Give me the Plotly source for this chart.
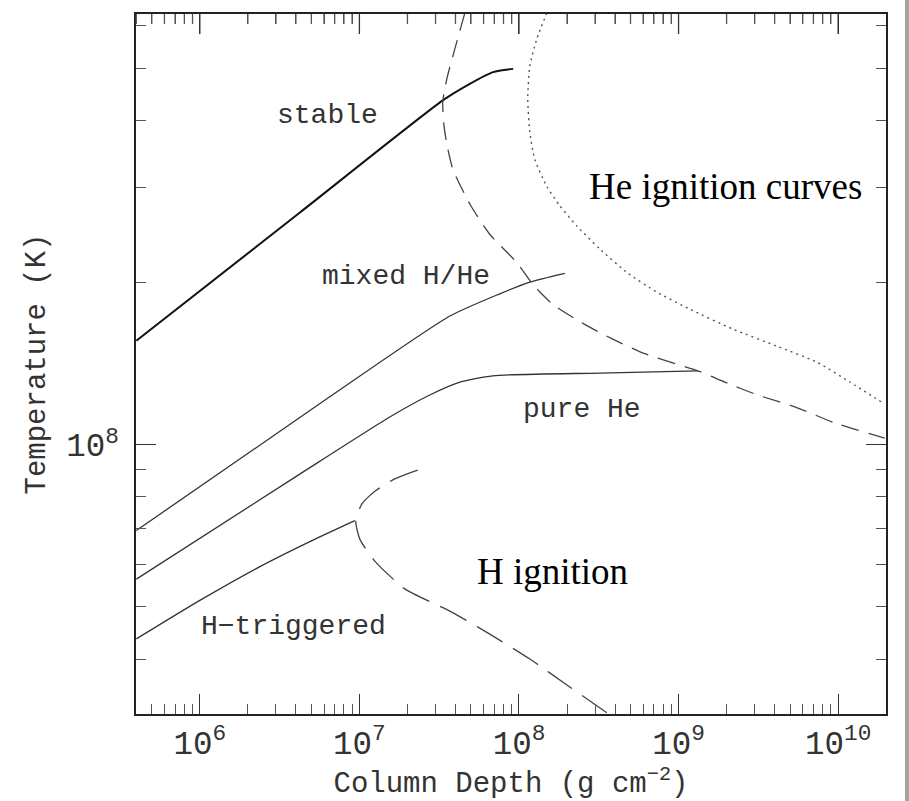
import math
import plotly.graph_objects as go

# Column depth (g cm^-2) and temperature (K) along each boundary

# stable / unstable burning boundary
stable_y = [4.0e5, 4.24e6, 3.33e7, 4.92e7, 6.89e7, 9.20e7]
stable_T = [1.56e8, 2.70e8, 4.36e8, 4.68e8, 4.92e8, 4.99e8]

# mixed H/He burning boundary
mixed_y = [4.0e5, 6.22e6, 3.69e7, 7.58e7, 1.17e8, 1.94e8]
mixed_T = [6.93e7, 1.216e8, 1.734e8, 1.907e8, 2.005e8, 2.082e8]

# pure He burning boundary
pure_y = [4.0e5, 4.23e6, 1.55e7, 2.76e7, 4.26e7, 6.85e7, 3.21e8, 1.32e9]
pure_T = [5.63e7, 8.82e7, 1.126e8, 1.237e8, 1.307e8, 1.343e8, 1.359e8, 1.372e8]

# H-triggered boundary
htrig_y = [4.0e5, 1.0e6, 2.38e6, 4.89e6, 9.36e6]
htrig_T = [4.36e7, 5.14e7, 5.94e7, 6.61e7, 7.23e7]

# He ignition curve (mixed H/He fuel), dashed
he_mix_y = [4.58e7, 3.96e7, 3.53e7, 3.33e7, 3.38e7, 3.53e7, 3.85e7, 4.92e7,
            6.56e7, 9.69e7, 1.221e8, 1.629e8, 2.58e8, 3.87e8, 6.14e8,
            1.32e9, 1.95e9, 3.13e9, 5.35e9, 9.94e9, 1.96e10]
he_mix_T = [6.34e8, 5.43e8, 4.78e8, 4.33e8, 3.94e8, 3.62e8, 3.25e8, 2.80e8,
            2.46e8, 2.18e8, 1.985e8, 1.823e8, 1.673e8, 1.571e8, 1.476e8,
            1.372e8, 1.307e8, 1.237e8, 1.176e8, 1.093e8, 1.029e8]

# He ignition curve (pure He fuel), dotted
he_pure_y = [1.494e8, 1.293e8, 1.169e8, 1.135e8, 1.169e8, 1.256e8, 1.494e8,
             1.801e8, 2.30e8, 3.21e8, 4.74e8, 7.30e8, 1.176e9, 2.19e9,
             4.12e9, 7.34e9, 1.182e10, 1.96e10]
he_pure_T = [6.34e8, 5.67e8, 5.05e8, 4.39e8, 3.81e8, 3.39e8, 3.02e8,
             2.78e8, 2.55e8, 2.31e8, 2.09e8, 1.921e8, 1.786e8, 1.640e8,
             1.525e8, 1.424e8, 1.308e8, 1.190e8]

# H ignition curve, long dashes
h_ign_y = [2.32e7, 1.667e7, 1.249e7, 1.035e7, 9.49e6, 1.006e7, 1.249e7,
           1.926e7, 3.69e7, 6.56e7, 1.169e8, 2.08e8, 3.55e8]
h_ign_T = [8.97e7, 8.64e7, 8.20e7, 7.76e7, 7.22e7, 6.68e7, 6.08e7,
           5.40e7, 4.91e7, 4.45e7, 4.00e7, 3.55e7, 3.18e7]

# regime labels and curve-family labels
region_text = ["stable", "mixed H/He", "pure He", "H\u2212triggered"]
curve_text = ["He ignition curves", "H ignition"]

MONO = "Liberation Mono, Courier New, monospace"
SERIF = "Liberation Serif, Times New Roman, serif"

X_RANGE = [5.6, 10.3]
Y_RANGE = [7.5, 8.8]
PLOT_W, PLOT_H = 750, 700

fig = go.Figure()


def curve(x, y, color, width, dash="solid", xaxis="x", yaxis="y"):
    fig.add_trace(go.Scatter(
        x=x, y=y, mode="lines", xaxis=xaxis, yaxis=yaxis,
        line=dict(color=color, width=width, dash=dash,
                  shape="spline", smoothing=0.6),
        showlegend=False, hoverinfo="skip"))


curve(stable_y, stable_T, "#111111", 2.0)
curve(mixed_y, mixed_T, "#333333", 1.3)
curve(pure_y, pure_T, "#333333", 1.3)
curve(htrig_y, htrig_T, "#333333", 1.3)
curve(he_mix_y, he_mix_T, "#444444", 1.3, "18px,10px")
curve(h_ign_y, h_ign_T, "#444444", 1.3, "30px,12px")
# the dotted curve sits on the overlaid right frame axis (same ranges)
curve(he_pure_y, he_pure_T, "#555555", 1.4, "2px,4px", xaxis="x2", yaxis="y2")

# label placement in plot-area fractions
region_pos = [(0.2547, 0.8557), (0.360, 0.6243), (0.5947, 0.4343), (0.210, 0.1257)]
curve_pos = [(0.786, 0.7529), (0.5547, 0.2029)]

for t, (px, py) in zip(region_text, region_pos):
    fig.add_annotation(x=px, y=py, xref="paper", yref="paper", text=t,
                       showarrow=False, xanchor="center", yanchor="middle",
                       font=dict(family=MONO, size=28, color="#333333"))

for t, (px, py) in zip(curve_text, curve_pos):
    fig.add_annotation(x=px, y=py, xref="paper", yref="paper", text=t,
                       showarrow=False, xanchor="center", yanchor="middle",
                       font=dict(family=SERIF, size=37, color="#000000"))

tick_style = dict(
    type="log", dtick=1, exponentformat="power", showexponent="all",
    showgrid=False, zeroline=False, showline=True, linecolor="#222222",
    linewidth=1.6, ticks="inside", ticklen=20,
    tickwidth=1.3, tickcolor="#333333", automargin=False,
    tickfont=dict(family=MONO, size=26, color="#333333"),
    minor=dict(ticks="inside", ticklen=10, tickwidth=1.3,
               tickcolor="#555555", dtick="D1", showgrid=False),
)

fig.update_layout(
    xaxis=dict(range=X_RANGE, mirror="allticks",
               title=dict(text="Column Depth (g cm<sup>\u22122</sup>)",
                          font=dict(family=MONO, size=29, color="#333333"),
                          standoff=10),
               **tick_style),
    yaxis=dict(range=Y_RANGE, ticklabelstandoff=10,
               title=dict(text="Temperature (K)",
                          font=dict(family=MONO, size=29, color="#333333"),
                          standoff=12),
               **tick_style),
    xaxis2=dict(range=X_RANGE, overlaying="x", side="top", anchor="y2",
                showticklabels=False, **tick_style),
    yaxis2=dict(range=Y_RANGE, overlaying="y", side="right", anchor="x2",
                showticklabels=False, **tick_style),
)

# tick marks hanging from the top frame edge (decades long, 2..9 short)
for decade in range(5, 11):
    for mult in range(1, 10):
        pos = math.log10(mult * 10 ** decade)
        if not (X_RANGE[0] < pos < X_RANGE[1]):
            continue
        frac = (pos - X_RANGE[0]) / (X_RANGE[1] - X_RANGE[0])
        length = (20 if mult == 1 else 10) / PLOT_H
        fig.add_shape(type="line", xref="paper", yref="paper",
                      x0=frac, x1=frac, y0=1, y1=1 - length,
                      line=dict(color="#333333" if mult == 1 else "#555555",
                                width=1.3),
                      layer="above")

# frame shading along the right edge of the page
fig.add_shape(type="rect", xref="paper", yref="paper",
              x0=(905 - 136) / PLOT_W, x1=(909 - 136) / PLOT_W,
              y0=-0.2, y1=1.1, line=dict(width=0), fillcolor="#a3a3a3",
              layer="above")

fig.update_layout(
    width=909, height=801,
    margin=dict(l=136, r=23, t=14, b=87),
    plot_bgcolor="white", paper_bgcolor="white",
)

fig.write_html("out.html")
